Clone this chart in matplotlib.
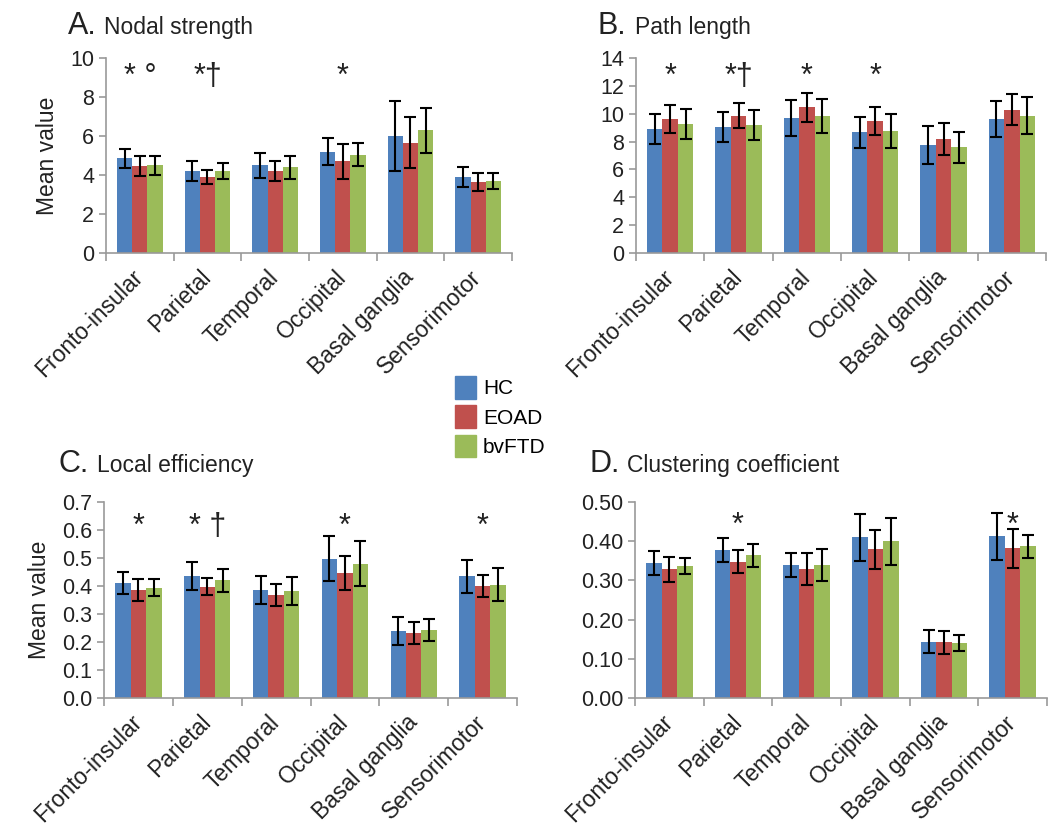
import numpy as np
import matplotlib.pyplot as plt
from matplotlib.patches import Patch

plt.rcParams['font.family'] = ['Liberation Sans', 'DejaVu Sans']

regions = ['Fronto-insular', 'Parietal', 'Temporal', 'Occipital', 'Basal ganglia', 'Sensorimotor']
groups = ['HC', 'EOAD', 'bvFTD']
colors = ['#4F81BD', '#C0504D', '#9BBB59']

# A. Nodal strength
ns_mean = [[4.85, 4.2, 4.5, 5.2, 6.0, 3.9],
           [4.45, 3.9, 4.2, 4.7, 5.65, 3.65],
           [4.5, 4.2, 4.4, 5.05, 6.3, 3.7]]
ns_err = [[0.5, 0.5, 0.63, 0.7, 1.8, 0.5],
          [0.5, 0.35, 0.5, 0.9, 1.3, 0.45],
          [0.5, 0.4, 0.6, 0.6, 1.15, 0.42]]
ns_marks = ['* °', '*†', '', '*', '', '']

# B. Path length
pl_mean = [[8.9, 9.07, 9.71, 8.68, 7.75, 9.62],
           [9.64, 9.86, 10.45, 9.45, 8.16, 10.29],
           [9.28, 9.19, 9.86, 8.78, 7.58, 9.86]]
pl_err = [[1.1, 1.07, 1.3, 1.12, 1.34, 1.31],
          [1.0, 0.9, 1.05, 1.0, 1.15, 1.12],
          [1.08, 1.07, 1.22, 1.22, 1.1, 1.31]]
pl_marks = ['*', '*†', '*', '*', '', '']

# C. Local efficiency
le_mean = [[0.41, 0.434, 0.385, 0.497, 0.238, 0.434],
           [0.385, 0.397, 0.368, 0.447, 0.232, 0.40],
           [0.394, 0.42, 0.382, 0.48, 0.243, 0.405]]
le_err = [[0.04, 0.05, 0.05, 0.08, 0.05, 0.06],
          [0.04, 0.03, 0.04, 0.06, 0.04, 0.04],
          [0.03, 0.04, 0.05, 0.08, 0.04, 0.06]]
le_marks = ['*', '* †', '', '*', '', '*']

# D. Clustering coefficient
cc_mean = [[0.344, 0.377, 0.339, 0.41, 0.144, 0.413],
           [0.328, 0.348, 0.329, 0.379, 0.142, 0.382],
           [0.337, 0.364, 0.339, 0.40, 0.14, 0.387]]
cc_err = [[0.03, 0.03, 0.03, 0.06, 0.03, 0.06],
          [0.031, 0.03, 0.04, 0.05, 0.03, 0.05],
          [0.02, 0.03, 0.04, 0.06, 0.02, 0.03]]
cc_marks = ['', '*', '', '', '', '*']

W, H = 1055, 832
fig = plt.figure(figsize=(W / 100, H / 100), dpi=100)


def box(x0, x1, ytop, ybot):
    return [x0 / W, 1 - ybot / H, (x1 - x0) / W, (ybot - ytop) / H]


panels = [
    (box(106, 512, 58, 253), ns_mean, ns_err, ns_marks, 10, 2, '%d', 9.04, True),
    (box(636, 1046, 58, 253), pl_mean, pl_err, pl_marks, 14, 2, '%d', 12.62, False),
    (box(104, 517, 502, 698), le_mean, le_err, le_marks, 0.7, 0.1, '%.1f', 0.612, True),
    (box(635, 1047, 502, 698), cc_mean, cc_err, cc_marks, 0.5, 0.1, '%.2f', 0.438, False),
]

x = np.arange(len(regions))
bw = 0.225
for rect, mean, err, marks, ymax, step, fmt, ystar, ylab in panels:
    ax = fig.add_axes(rect)
    for i in range(3):
        ax.bar(x + (i - 1) * bw, mean[i], bw, color=colors[i], zorder=2)
        ax.errorbar(x + (i - 1) * bw, mean[i], yerr=err[i], fmt='none',
                    ecolor='black', elinewidth=1.5, capsize=4, capthick=1.5, zorder=3)
    for j, m in enumerate(marks):
        if m:
            ax.text(x[j], ystar, m, ha='center', va='center', fontsize=22, color='#222222')
    ax.set_xlim(-0.5, len(regions) - 0.5)
    ax.set_ylim(0, ymax)
    ax.set_yticks(np.arange(0, ymax + step / 2, step))
    ax.yaxis.set_major_formatter(plt.FormatStrFormatter(fmt))
    ax.set_xticks(x)
    ax.set_xticklabels(regions, rotation=45, ha='right', va='center',
                       rotation_mode='anchor', fontsize=16.5, color='#222222')
    ax.set_xticks(np.arange(-0.5, len(regions)), minor=True)
    ax.tick_params(axis='x', which='major', length=0, pad=15)
    ax.tick_params(axis='x', which='minor', length=6, color='#999999', width=1.2)
    ax.tick_params(axis='y', length=5, color='#999999', width=1.2, labelsize=15.5,
                   labelcolor='#222222')
    for s in ['top', 'right']:
        ax.spines[s].set_visible(False)
    for s in ['left', 'bottom']:
        ax.spines[s].set_color('#999999')
        ax.spines[s].set_linewidth(1.2)
    if ylab:
        ax.set_ylabel('Mean value', fontsize=16.5, color='#222222', labelpad=8)

titles = [(68, 34, 104, 'A.', 'Nodal strength'),
          (598, 34, 635, 'B.', 'Path length'),
          (58, 472, 97, 'C.', 'Local efficiency'),
          (589, 472, 627, 'D.', 'Clustering coefficient')]
for xl, yb, xt, letter, name in titles:
    fig.text(xl / W, 1 - yb / H, letter, fontsize=22, color='#222222', va='baseline')
    fig.text(xt / W, 1 - yb / H, name, fontsize=16.5, color='#222222', va='baseline')

handles = [Patch(color=c) for c in colors]
fig.legend(handles, groups, loc='upper left', bbox_to_anchor=(455 / W, 1 - 376 / H),
           frameon=False, fontsize=15, handlelength=1.0, handleheight=1.3,
           labelspacing=0.32, handletextpad=0.35, borderpad=0, borderaxespad=0)

fig.savefig('out.png', dpi=100)
